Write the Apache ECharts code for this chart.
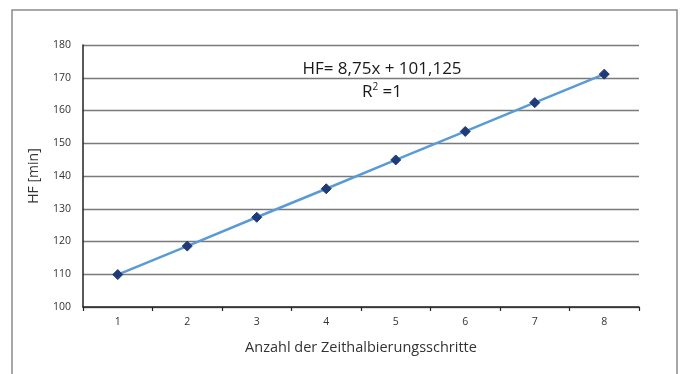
<!DOCTYPE html>
<html>
<head>
<meta charset="utf-8">
<script src="https://cdn.jsdelivr.net/npm/echarts@6/dist/echarts.min.js"></script>
<style>
  html, body { margin: 0; padding: 0; background: #ffffff; }
  #chart { width: 683px; height: 374px; }
</style>
</head>
<body>
<div id="chart"></div>
<script>
// Halving steps and resulting HF values
const steps = ['1', '2', '3', '4', '5', '6', '7', '8'];
const hfValues = [109.9, 118.6, 127.4, 136.1, 144.9, 153.6, 162.4, 171.1];
const yTicks = { min: 100, max: 180, interval: 10 };
const fitLines = ['HF= 8,75x + 101,125', 'R{sup|2} =1'];

const textColor = '#333333';
const font = '"Open Sans", "Liberation Sans", sans-serif';

const chart = echarts.init(document.getElementById('chart'), null, { renderer: 'canvas' });

chart.setOption({
  backgroundColor: '#ffffff',
  animation: false,
  grid: { left: 83, right: 44, top: 45, bottom: 67, containLabel: false },
  graphic: [
    {
      type: 'rect',
      shape: { x: 12, y: 10, width: 665, height: 380 },
      style: { fill: 'none', stroke: '#8a8a8a', lineWidth: 1.5 },
      silent: true
    },
    {
      type: 'text',
      x: 382, y: 69,
      style: {
        text: fitLines[0],
        fill: '#1a1a1a',
        font: '17px ' + font,
        align: 'center',
        verticalAlign: 'middle'
      }
    },
    {
      type: 'text',
      x: 382, y: 92,
      style: {
        text: fitLines[1],
        fill: '#1a1a1a',
        font: '17px ' + font,
        align: 'center',
        verticalAlign: 'middle',
        rich: { sup: { fontSize: 10, verticalAlign: 'top', padding: [0, 0, 9, 0], fill: '#1a1a1a', fontFamily: font } }
      }
    }
  ],
  xAxis: {
    type: 'category',
    data: steps,
    boundaryGap: true,
    name: 'Anzahl der Zeithalbierungsschritte',
    nameLocation: 'middle',
    nameGap: 33,
    nameTextStyle: { color: textColor, fontSize: 14.5, fontFamily: font },
    axisLine: { lineStyle: { color: '#222222', width: 1.5 } },
    axisTick: { show: true, length: 4, inside: false, lineStyle: { color: '#222222', width: 1.2 } },
    axisLabel: { color: textColor, fontSize: 10.5, fontFamily: font, margin: 10 },
    splitLine: { show: false }
  },
  yAxis: {
    type: 'value',
    min: yTicks.min,
    max: yTicks.max,
    interval: yTicks.interval,
    name: 'HF [min]',
    nameLocation: 'middle',
    nameGap: 42,
    nameRotate: 90,
    nameTextStyle: { color: textColor, fontSize: 14, fontFamily: font },
    axisLine: { show: true, lineStyle: { color: '#222222', width: 1.5 } },
    axisTick: { show: false },
    axisLabel: { color: textColor, fontSize: 10.5, fontFamily: font, margin: 12 },
    splitLine: { show: true, lineStyle: { color: '#7a7a7a', width: 1.3 } }
  },
  series: [
    {
      type: 'line',
      data: hfValues,
      symbol: 'diamond',
      symbolSize: 10,
      showSymbol: true,
      lineStyle: { color: '#5b9bd5', width: 2.5 },
      itemStyle: { color: '#1f3c78', borderColor: '#1f3c78' },
      z: 3
    }
  ]
});
</script>
</body>
</html>
